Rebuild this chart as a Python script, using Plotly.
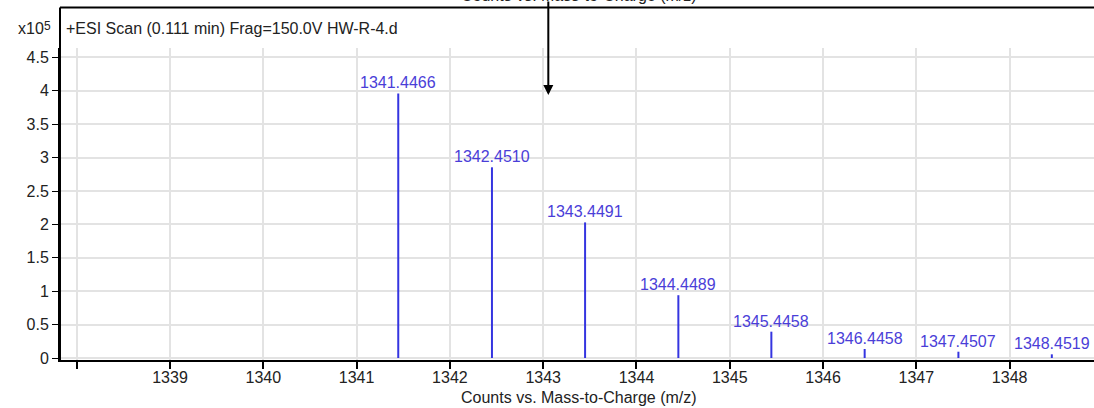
import plotly.graph_objects as go

# Centroided isotope peaks (m/z, counts in units of 1e5)
peak_mz = [1341.4466, 1342.4510, 1343.4491, 1344.4489, 1345.4458, 1346.4458, 1347.4507, 1348.4519]
peak_counts = [3.96, 2.855, 2.03, 0.94, 0.394, 0.135, 0.094, 0.055]
peak_labels = ["1341.4466", "1342.4510", "1343.4491", "1344.4489",
               "1345.4458", "1346.4458", "1347.4507", "1348.4519"]

x_tickvals = [1338, 1339, 1340, 1341, 1342, 1343, 1344, 1345, 1346, 1347, 1348]
x_ticktext = ["", "1339", "1340", "1341", "1342", "1343", "1344", "1345", "1346", "1347", "1348"]
y_tickvals = [0, 0.5, 1, 1.5, 2, 2.5, 3, 3.5, 4, 4.5]
y_ticktext = ["0", "0.5", "1", "1.5", "2", "2.5", "3", "3.5", "4", "4.5"]

header = "+ESI Scan (0.111 min) Frag=150.0V HW-R-4.d"
x_title = "Counts vs. Mass-to-Charge (m/z)"
marker_mz = 1343.055
marker_top = 3.937

FONT = "Liberation Sans"
TXT = "#222222"
LINE_BLUE = "#3535e0"
LABEL_BLUE = "#4a3ed8"

# Stick spectrum: one vertical segment per peak
sx, sy = [], []
for m, c in zip(peak_mz, peak_counts):
    sx += [m, m, None]
    sy += [0, c, None]

fig = go.Figure()
fig.add_trace(go.Scatter(x=sx, y=sy, mode="lines",
                         line=dict(color=LINE_BLUE, width=2),
                         hoverinfo="skip", showlegend=False))

annotations = []
for m, c, t in zip(peak_mz, peak_counts, peak_labels):
    annotations.append(dict(x=m, y=c, xref="x", yref="y", text=t, showarrow=False,
                            yanchor="middle", xanchor="center", yshift=10.5,
                            font=dict(family=FONT, size=16, color=LABEL_BLUE)))

# Header inside the frame, exponent label, and titles
annotations += [
    dict(x=0.004, y=1.0625, xref="paper", yref="paper", text=header, showarrow=False,
         xanchor="left", yanchor="middle", font=dict(family=FONT, size=16, color=TXT)),
    dict(x=-0.0135, y=1.0625, xref="paper", yref="paper", text="x10", showarrow=False,
         xanchor="right", yanchor="middle", font=dict(family=FONT, size=16, color=TXT)),
    dict(x=-0.0072, y=1.072, xref="paper", yref="paper", text="5", showarrow=False,
         xanchor="right", yanchor="middle", font=dict(family=FONT, size=12, color=TXT)),
    dict(x=0.502, y=-0.1186, xref="paper", yref="paper", text=x_title, showarrow=False,
         xanchor="center", yanchor="middle", font=dict(family=FONT, size=16, color=TXT)),
    dict(x=0.502, y=1.1667, xref="paper", yref="paper", text=x_title, showarrow=False,
         xanchor="center", yanchor="middle", font=dict(family=FONT, size=16, color=TXT)),
    dict(x=marker_mz, y=marker_top, xref="x", yref="y", ax=0, ay=-95, axref="pixel",
         ayref="pixel", showarrow=True, arrowhead=2, arrowsize=1, arrowwidth=2,
         arrowcolor="black", text=""),
]

fig.update_layout(
    width=1094, height=408,
    margin=dict(l=60, r=0, t=48, b=48, pad=0),
    paper_bgcolor="white", plot_bgcolor="white",
    font=dict(family=FONT, size=16, color=TXT),
    annotations=annotations,
    shapes=[
        dict(type="line", xref="paper", yref="paper", x0=0, x1=1, y0=1.1298, y1=1.1298,
             line=dict(color="black", width=2)),
        dict(type="line", xref="paper", yref="paper", x0=0, x1=0, y0=0, y1=1.1298,
             line=dict(color="black", width=2)),
    ],
)

fig.update_xaxes(range=[1337.821, 1348.904], tickvals=x_tickvals, ticktext=x_ticktext,
                 showgrid=True, gridcolor="#e3e3e3", gridwidth=2,
                 showline=True, linecolor="black", linewidth=2,
                 ticks="outside", ticklen=7, tickwidth=2, tickcolor="black",
                 ticklabelstandoff=-5,
                 zeroline=False, tickfont=dict(family=FONT, size=16, color=TXT))
fig.update_yaxes(range=[-0.03, 4.641], tickvals=y_tickvals, ticktext=y_ticktext,
                 showgrid=True, gridcolor="#e3e3e3", gridwidth=2,
                 showline=True, linecolor="black", linewidth=2,
                 ticks="outside", ticklen=6, tickwidth=1, tickcolor="black",
                 zeroline=False, tickfont=dict(family=FONT, size=16, color=TXT))

fig.write_html("out.html")
